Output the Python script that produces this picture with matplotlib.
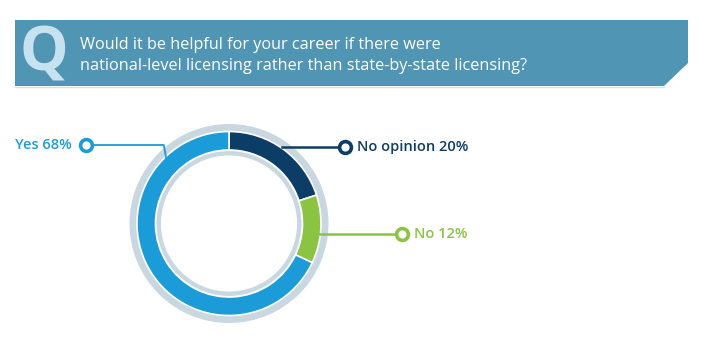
import numpy as np
import matplotlib.pyplot as plt
from matplotlib.patches import Polygon

# Dati del sondaggio
categories = ['No opinion', 'No', 'Yes']
shares = [20, 12, 68]
colors = ['#0c3d66', '#8bc443', '#1b9cd8']
question = ("Would it be helpful for your career if there were\n"
            "national-level licensing rather than state-by-state licensing?")

W, H = 704, 342
FONT = 'Open Sans'

fig = plt.figure(figsize=(W / 100, H / 100), dpi=100)
ax = fig.add_axes([0, 0, 1, 1])


def py(y):
    # coordinate pixel dall'alto -> coordinate dati dal basso
    return H - y


# Banner della domanda
banner = Polygon([(15, py(20)), (688, py(20)), (688, py(63)), (664, py(86)), (15, py(86))],
                 closed=True, facecolor='#5095b4', edgecolor='none')
ax.add_patch(banner)
ax.plot([15, 664], [py(86.5), py(86.5)], color='#cfe3ec', lw=1)
ax.text(44, py(55), 'Q', color='#c6e1f0', fontsize=44, fontweight='bold',
        family=FONT, ha='center', va='center')
ax.text(80, py(55.5), question, color='white', fontsize=11.7, family=FONT,
        ha='left', va='center', linespacing=1.45)

# Ciambella
cx, cy = 229, py(223.5)
ax.pie([1], radius=99.5, center=(cx, cy), colors=['#c8d7e0'],
       wedgeprops=dict(width=31.5, edgecolor='none'))
wedges, _ = ax.pie(shares, radius=92, center=(cx, cy), colors=colors,
                   startangle=90, counterclock=False,
                   wedgeprops=dict(width=18.5, edgecolor='white', linewidth=1.2))
ax.pie([1], radius=73, center=(cx, cy), colors=['#c8d7e0'],
       wedgeprops=dict(width=5.5, edgecolor='white', linewidth=0.8))

# Etichette con linee guida
anchor_angle = {'No opinion': 54, 'No': -5, 'Yes': 135}
label_y = {'No opinion': 147, 'No': 233.5, 'Yes': 145}
marker_x = {'No opinion': 345, 'No': 402, 'Yes': 86}

for name, share, col, w in zip(categories, shares, colors, wedges):
    a = np.deg2rad(anchor_angle[name])
    r = 88 if name == 'Yes' else 90
    ax_, ay_ = cx + r * np.cos(a), cy + r * np.sin(a)
    ly = py(label_y[name])
    mx = marker_x[name]
    if name == 'Yes':
        elbow = (ax_ - 3, ly)
        ax.plot([ax_, elbow[0], mx], [ay_, ly, ly], color=col, lw=1.3, zorder=5)
        ax.text(mx - 14, ly, f'{name} {share}%', color=col, fontsize=10.5,
                family=FONT, fontweight='semibold', ha='right', va='center')
    else:
        ax.plot([ax_, mx], [ly, ly], color=col, lw=1.8, zorder=5)
        ax.text(mx + 12, ly, f'{name} {share}%', color=col, fontsize=10.5,
                family=FONT, fontweight='semibold', ha='left', va='center')
    ax.plot([mx], [ly], marker='o', ms=8.5, mfc='white', mec=col, mew=2.6, zorder=6)

ax.set_xlim(0, W)
ax.set_ylim(0, H)
ax.set_aspect('auto')
ax.axis('off')

plt.savefig('out.png', dpi=100)
plt.close()
